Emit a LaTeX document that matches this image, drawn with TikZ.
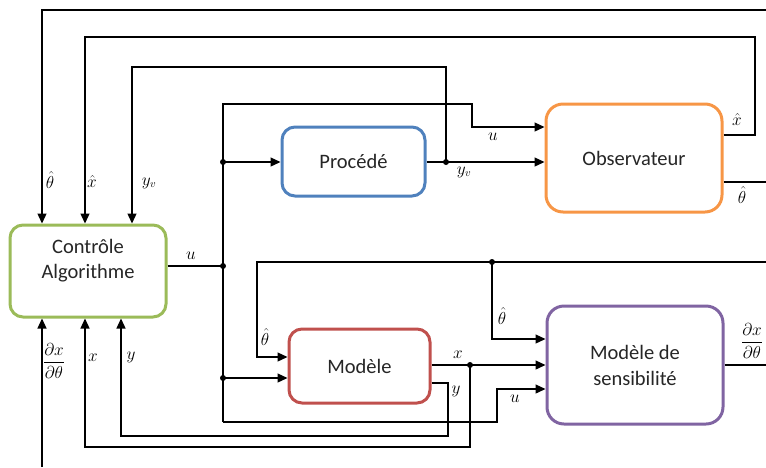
\documentclass[tikz,border=0pt]{standalone}
\usepackage{fontspec}
\setmainfont{Carlito}
\usetikzlibrary{arrows.meta}
\definecolor{cgreen}{HTML}{9BBB59}
\definecolor{cblue}{HTML}{4F81BD}
\definecolor{corange}{HTML}{F79646}
\definecolor{cred}{HTML}{C0504D}
\definecolor{cpurple}{HTML}{8064A2}
\begin{document}
\begin{tikzpicture}[x=1pt,y=-1pt,
  box/.style={draw, line width=3pt, rounded corners=13pt, fill=white, align=center, inner sep=0pt, font=\fontsize{20.5}{26}\selectfont, text=black!85},
  boxtext/.style={align=center, inner sep=0pt, font=\fontsize{20.5}{25}\selectfont, text=black!85},
  wire/.style={line width=1.3pt, black},
  arr/.style={wire, -{Triangle[length=10pt,width=9pt]}},
  dot/.style={circle, fill=black, inner sep=0pt, minimum size=6pt},
  lbl/.style={font=\fontsize{16}{19}\selectfont, inner sep=0pt}]
\useasboundingbox (0,0) rectangle (766,467);

% boxes
\node[box, draw=cgreen, minimum width=156pt, minimum height=92pt] (ctrl) at (88,271) {};
\node[boxtext] (ctrltext) at (88,261) {Contrôle\\Algorithme};
\node[box, draw=cblue, minimum width=143pt, minimum height=69pt] (proc) at (353.5,161.5) {Procédé};
\node[box, draw=corange, minimum width=176pt, minimum height=108pt, rounded corners=17pt] (obs) at (634,158) {Observateur};
\node[box, draw=cred, minimum width=141pt, minimum height=74pt] (mod) at (359.5,366) {Modèle};
\node[box, draw=cpurple, minimum width=176pt, minimum height=118pt, rounded corners=17pt] (sens) at (635,365) {Modèle de\\sensibilité};

% junctions
\node[dot] (ju1) at (223,162) {};
\node[dot] (ju2) at (223,266) {};
\node[dot] (ju3) at (223,378) {};
\node[dot] (jy) at (446,162) {};
\node[dot] (jt) at (492,262) {};
\node[dot] (jx) at (470,365) {};

% free ends
\coordinate (eTop) at (766,10);
\coordinate (eTh) at (766,182);
\coordinate (eTh2) at (766,262);
\coordinate (eS) at (766,365);
\coordinate (eBot) at (42,467);

% theta hat top line
\draw[arr] (eTop) -- (42,10) -- (42,0 |- ctrl.north);
% x hat
\draw[arr] (obs.east |- 0,135) -- (755,135) -- (755,37) -- (85,37) -- (85,0 |- ctrl.north);
% y_v
\draw[arr] (proc.east |- jy) -- (obs.west |- jy);
\draw[arr] (jy.center) -- (446,67) -- (132,67) -- (132,0 |- ctrl.north);
% theta hat out of observer
\draw[wire] (obs.east |- eTh) -- (eTh);
% u bus
\draw[wire] (ctrl.east |- ju2) -- (ju2.center);
\draw[arr] (223,422) -- (223,104) -- (472,104) -- (472,127) -- (obs.west |- 0,127);
\draw[arr] (223,422) -- (497,422) -- (497,389) -- (sens.west |- 0,389);
\draw[arr] (ju1.center) -- (proc.west |- ju1);
\draw[arr] (ju3.center) -- (mod.west |- ju3);
% theta hat line
\draw[arr] (eTh2) -- (257,262) -- (257,357) -- (mod.west |- 0,357);
\draw[arr] (jt.center) -- (492,339) -- (sens.west |- 0,339);
% x
\draw[arr] (mod.east |- jx) -- (sens.west |- jx);
\draw[arr] (jx.center) -- (470,447) -- (85,447) -- (85,0 |- ctrl.south);
% y
\draw[arr] (mod.east |- 0,383) -- (448,383) -- (448,436) -- (121,436) -- (121,0 |- ctrl.south);
% sensitivity output
\draw[wire] (sens.east) -- (eS);
\draw[arr] (eBot) -- (42,0 |- ctrl.south);

% labels
\node[lbl] (l1) at (50,180) {$\hat\theta$};
\node[lbl] (l2) at (92,181) {$\hat x$};
\node[lbl] (l3) at (149,183) {$y_v$};
\node[lbl] (l4) at (191,256) {$u$};
\node[lbl] (l5) at (493,137) {$u$};
\node[lbl] (l6) at (464,172) {$y_v$};
\node[lbl] (l7) at (737,119) {$\hat x$};
\node[lbl] (l8) at (742,195) {$\hat\theta$};
\node[lbl] (l9) at (265,337) {$\hat\theta$};
\node[lbl] (l10) at (502,316) {$\hat\theta$};
\node[lbl] (l11) at (458,355) {$x$};
\node[lbl] (l12) at (456,391) {$y$};
\node[lbl] (l13) at (515,399) {$u$};
\node[lbl] (l14) at (752,341) {$\displaystyle\frac{\partial x}{\partial\theta}$};
\node[lbl] (l15) at (54,361) {$\displaystyle\frac{\partial x}{\partial\theta}$};
\node[lbl] (l16) at (93,358) {$x$};
\node[lbl] (l17) at (131,357) {$y$};
\end{tikzpicture}
\end{document}
